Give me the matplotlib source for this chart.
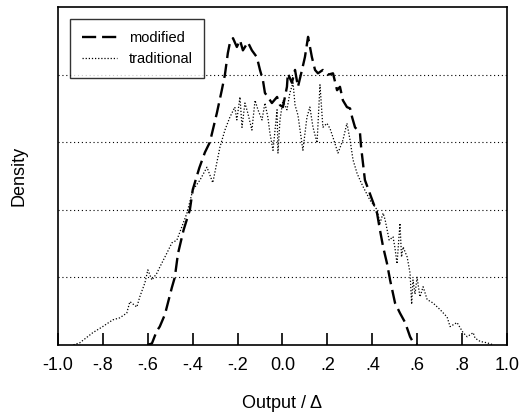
import matplotlib
matplotlib.use("Agg")
import matplotlib.pyplot as plt

plt.rcParams['font.family'] = ['Liberation Sans', 'DejaVu Sans']

# modified (dashed) curve
mod_x = [-0.60, -0.581, -0.560, -0.546, -0.523, -0.492, -0.479, -0.465, -0.440, -0.412,
         -0.399, -0.370, -0.345, -0.323, -0.292, -0.270, -0.256, -0.243, -0.234, -0.220,
         -0.203, -0.189, -0.176, -0.154, -0.136, -0.114, -0.100, -0.087, -0.078, -0.065,
         -0.047, -0.024, -0.011, 0.002, 0.020, 0.024, 0.042, 0.056, 0.069, 0.087,
         0.100, 0.114, 0.131, 0.145, 0.158, 0.180, 0.203, 0.225, 0.243, 0.256,
         0.269, 0.287, 0.301, 0.310, 0.323, 0.345, 0.350, 0.367, 0.421, 0.434,
         0.448, 0.465, 0.479, 0.501, 0.523, 0.546, 0.568, 0.581, 0.60]
mod_y = [0.0, 0.02, 0.20, 0.27, 0.45, 0.85, 1.00, 1.35, 1.70, 2.00,
         2.30, 2.62, 2.85, 3.00, 3.43, 3.77, 4.00, 4.32, 4.47, 4.54,
         4.41, 4.51, 4.36, 4.48, 4.36, 4.26, 4.07, 3.92, 3.73, 3.67,
         3.58, 3.67, 3.55, 3.52, 3.82, 4.02, 3.88, 4.07, 3.82, 4.07,
         4.26, 4.56, 4.26, 4.07, 4.02, 4.07, 4.00, 4.02, 3.77, 3.82,
         3.62, 3.52, 3.50, 3.37, 3.22, 3.14, 2.93, 2.44, 1.95, 1.70,
         1.45, 1.21, 0.96, 0.62, 0.47, 0.33, 0.12, 0.04, 0.0]

# traditional (dotted) curve
trad_x = [-0.93, -0.902, -0.844, -0.800, -0.755, -0.724, -0.693, -0.679, -0.648, -0.635,
          -0.612, -0.599, -0.581, -0.559, -0.546, -0.514, -0.492, -0.470, -0.425, -0.399,
          -0.367, -0.336, -0.310, -0.278, -0.256, -0.234, -0.212, -0.203, -0.189, -0.180,
          -0.167, -0.154, -0.136, -0.122, -0.109, -0.091, -0.078, -0.065, -0.056, -0.042,
          -0.024, -0.020, -0.011, 0.002, 0.020, 0.033, 0.047, 0.056, 0.069, 0.091,
          0.109, 0.122, 0.136, 0.154, 0.167, 0.180, 0.198, 0.212, 0.225, 0.247,
          0.269, 0.287, 0.301, 0.314, 0.332, 0.345, 0.359, 0.390, 0.421, 0.434,
          0.448, 0.457, 0.475, 0.492, 0.500, 0.510, 0.523, 0.530, 0.537, 0.555,
          0.568, 0.575, 0.581, 0.590, 0.599, 0.612, 0.626, 0.644, 0.670, 0.702,
          0.733, 0.746, 0.777, 0.804, 0.822, 0.849, 0.857, 0.880, 0.911, 0.938]
trad_y = [0.0, 0.03, 0.18, 0.27, 0.37, 0.40, 0.47, 0.64, 0.56, 0.71,
          0.92, 1.11, 0.96, 1.06, 1.15, 1.36, 1.51, 1.55, 1.95, 2.29,
          2.44, 2.63, 2.40, 2.93, 3.18, 3.37, 3.52, 3.33, 3.67, 3.22,
          3.58, 3.43, 3.18, 3.62, 3.48, 3.33, 3.58, 3.37, 3.14, 2.88,
          3.48, 2.84, 3.33, 3.62, 3.48, 3.73, 3.88, 3.55, 3.40, 2.88,
          3.37, 3.52, 3.22, 2.99, 3.85, 3.22, 3.28, 3.20, 3.07, 2.84,
          3.03, 3.28, 3.03, 2.74, 2.54, 2.44, 2.34, 2.14, 2.00, 1.80,
          1.95, 1.85, 1.55, 1.60, 1.45, 1.20, 1.80, 1.30, 1.45, 1.30,
          1.06, 0.60, 0.96, 0.75, 1.00, 0.71, 0.86, 0.67, 0.62, 0.52,
          0.41, 0.27, 0.33, 0.18, 0.12, 0.18, 0.10, 0.05, 0.03, 0.0]

xticks = [-1.0, -0.8, -0.6, -0.4, -0.2, 0.0, 0.2, 0.4, 0.6, 0.8, 1.0]
xtick_labels = ['-1.0', '-.8', '-.6', '-.4', '-.2', '0.0', '.2', '.4', '.6', '.8', '1.0']
grid_levels = [1, 2, 3, 4]

fig = plt.figure(figsize=(5.25, 4.19), dpi=100)
ax = fig.add_axes([0.110, 0.177, 0.856, 0.806])

for lev in grid_levels:
    ax.axhline(lev, color='black', lw=0.8, ls=(0, (1, 2.5)), zorder=0)

ax.plot(mod_x, mod_y, color='black', lw=1.7, ls=(0, (6, 2.5)), label='modified')
ax.plot(trad_x, trad_y, color='black', lw=0.9, ls=(0, (1, 1.5)), label='traditional')

ax.set_xlim(-1.0, 1.0)
ax.set_ylim(0, 5)
ax.set_xticks(xticks)
ax.set_xticklabels(xtick_labels, fontsize=13)
ax.set_yticks([])
ax.tick_params(axis='x', direction='in', length=9, width=1.2, pad=9)

for s in ax.spines.values():
    s.set_linewidth(1.2)

ax.set_xlabel('Output / \u0394', fontsize=13, labelpad=15)
ax.set_ylabel('Density', fontsize=13, labelpad=22)

leg = ax.legend(loc='upper left', fontsize=10.5, frameon=True, fancybox=False,
                edgecolor='black', handlelength=2.4, borderpad=0.8,
                bbox_to_anchor=(0.012, 0.985))
leg.get_frame().set_linewidth(1.0)

fig.savefig('out.png', dpi=100)
